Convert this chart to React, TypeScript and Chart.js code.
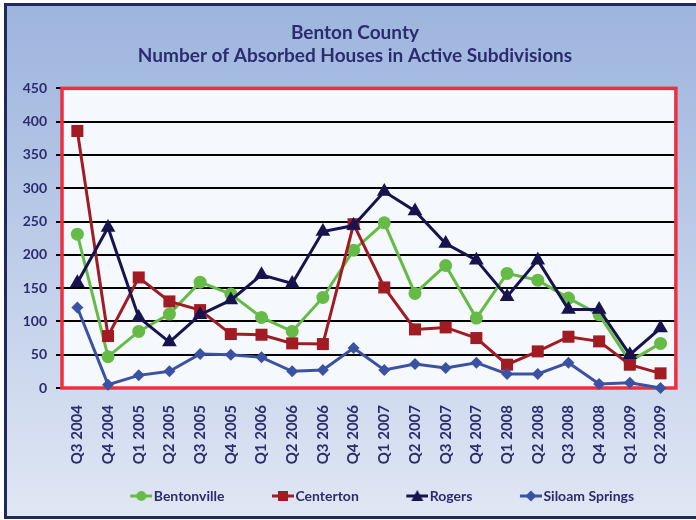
import React, { useEffect, useRef } from "react";
import { Chart, registerables } from "chart.js";

Chart.register(...registerables);

const categories = [
  "Q3 2004", "Q4 2004", "Q1 2005", "Q2 2005", "Q3 2005", "Q4 2005", "Q1 2006", "Q2 2006",
  "Q3 2006", "Q4 2006", "Q1 2007", "Q2 2007", "Q3 2007", "Q4 2007", "Q1 2008", "Q2 2008",
  "Q3 2008", "Q4 2008", "Q1 2009", "Q2 2009",
];
const bentonville = [231, 47, 85, 111, 159, 141, 106, 85, 136, 207, 248, 142, 184, 105, 172, 162, 135, 110, 40, 67];
const centerton = [386, 78, 166, 130, 117, 81, 80, 67, 66, 246, 151, 88, 91, 75, 35, 55, 77, 70, 35, 22];
const rogers = [158, 241, 106, 69, 110, 132, 170, 157, 235, 244, 295, 266, 217, 192, 137, 192, 118, 118, 50, 90];
const siloamSprings = [121, 5, 19, 25, 51, 50, 46, 25, 27, 60, 27, 36, 30, 38, 21, 21, 38, 6, 8, 0];
const yTicks = [0, 50, 100, 150, 200, 250, 300, 350, 400, 450];
const titleLines = ["Benton County", "Number of Absorbed Houses in Active Subdivisions"];

const FONT = "Lato, 'Open Sans', sans-serif";
const TEXT = "#2b2c6e";

const seriesDefs = [
  { label: "Bentonville", data: bentonville, color: "#66bb46", style: "circle", radius: 6.5 },
  { label: "Centerton", data: centerton, color: "#a01c22", style: "rect", radius: 8.5 },
  { label: "Rogers", data: rogers, color: "#16134e", style: "triangle", radius: 8.5 },
  { label: "Siloam Springs", data: siloamSprings, color: "#3b52a3", style: "rectRot", radius: 6 },
];

// legend icon: image 54px wide, centred on a 43px legend box; line occupies right 22px
function legendIcon(color: string, style: string): HTMLCanvasElement {
  const c = document.createElement("canvas");
  c.width = 54;
  c.height = 14;
  const ctx = c.getContext("2d")!;
  const x0 = 32;
  const x1 = 54;
  const cx = (x0 + x1) / 2;
  ctx.strokeStyle = color;
  ctx.fillStyle = color;
  ctx.lineWidth = 3;
  ctx.beginPath();
  ctx.moveTo(x0, 7);
  ctx.lineTo(x1, 7);
  ctx.stroke();
  ctx.beginPath();
  if (style === "circle") {
    ctx.arc(cx, 7, 5, 0, Math.PI * 2);
  } else if (style === "rect") {
    ctx.rect(cx - 5, 2, 10, 10);
  } else if (style === "triangle") {
    ctx.moveTo(cx, 1);
    ctx.lineTo(cx + 6, 12);
    ctx.lineTo(cx - 6, 12);
    ctx.closePath();
  } else {
    ctx.moveTo(cx, 1.5);
    ctx.lineTo(cx + 5.5, 7);
    ctx.lineTo(cx, 12.5);
    ctx.lineTo(cx - 5.5, 7);
    ctx.closePath();
  }
  ctx.fill();
  return c;
}

const framePlugin = {
  id: "frame",
  beforeDraw(chart: any) {
    const { ctx, width, height, chartArea } = chart;
    ctx.save();
    ctx.fillStyle = "#ffffff";
    ctx.fillRect(0, 0, width, height);
    const g = ctx.createLinearGradient(0, 4, 0, 518);
    g.addColorStop(0, "#9db4de");
    g.addColorStop(1, "#e0e7f4");
    ctx.fillStyle = g;
    ctx.fillRect(5, 4, width + 20, 513);
    ctx.strokeStyle = "#1f2a5c";
    ctx.lineWidth = 3;
    ctx.strokeRect(5.5, 4.5, width + 20, 513);
    ctx.fillStyle = "#f5f9fe";
    ctx.fillRect(chartArea.left, chartArea.top, chartArea.right - chartArea.left, chartArea.bottom - chartArea.top);
    ctx.restore();
  },
  beforeDatasetsDraw(chart: any) {
    const { ctx, chartArea } = chart;
    ctx.save();
    ctx.strokeStyle = "#ee2f3f";
    ctx.lineWidth = 3.5;
    ctx.strokeRect(chartArea.left, chartArea.top, chartArea.right - chartArea.left, chartArea.bottom - chartArea.top);
    ctx.restore();
  },
};

export default function App() {
  const ref = useRef<HTMLCanvasElement>(null);
  useEffect(() => {
    const icons = seriesDefs.map((s) => legendIcon(s.color, s.style));
    const chart = new Chart(ref.current!, {
      type: "line",
      data: {
        labels: categories,
        datasets: seriesDefs.map((s, i) => ({
          label: s.label,
          data: s.data,
          yAxisID: "y",
          borderColor: s.color,
          backgroundColor: s.color,
          pointBackgroundColor: s.color,
          pointBorderColor: s.color,
          pointStyle: s.style as any,
          pointRadius: s.radius,
          pointBorderWidth: 0,
          borderWidth: 3,
          tension: 0,
          clip: false as any,
          order: seriesDefs.length - 1 - i,
        })),
      },
      options: {
        animation: false,
        responsive: false,
        layout: { padding: { left: 14, right: 0, top: 0, bottom: 7 } },
        plugins: {
          tooltip: { enabled: false },
          title: {
            display: true,
            text: titleLines,
            color: TEXT,
            font: { family: FONT, size: 19, weight: "bold", lineHeight: 1.22 },
            padding: { top: 21, bottom: 21 },
          },
          legend: {
            position: "bottom",
            fullSize: false,
            labels: {
              usePointStyle: true,
              pointStyleWidth: 43,
              padding: 21,
              color: TEXT,
              font: { family: FONT, size: 14, weight: "bold" },
              generateLabels: () =>
                seriesDefs.map((s, i) => ({
                  text: s.label,
                  fillStyle: s.color,
                  strokeStyle: s.color,
                  lineWidth: 0,
                  pointStyle: icons[i] as any,
                  hidden: false,
                  datasetIndex: i,
                  fontColor: TEXT,
                })),
            },
          },
        },
        scales: {
          x: {
            offset: true,
            grid: { display: false, drawTicks: false },
            border: { display: false },
            ticks: {
              color: TEXT,
              font: { family: FONT, size: 15, weight: "bold" },
              maxRotation: 90,
              minRotation: 90,
              padding: 17,
              autoSkip: false,
            },
            afterFit: (s: any) => {
              s.height = 80;
            },
          },
          y: {
            position: "left",
            min: 0,
            max: 450,
            afterBuildTicks: (s: any) => {
              s.ticks = yTicks.map((v) => ({ value: v }));
            },
            grid: { color: "#000000", lineWidth: 2, drawTicks: true, tickLength: 6, tickColor: "#000000" },
            border: { display: false },
            ticks: {
              color: TEXT,
              font: { family: FONT, size: 14, weight: "bold" },
              padding: 9,
            },
            afterFit: (s: any) => {
              s.width = 48;
            },
          },
          spacer: {
            type: "linear",
            position: "right",
            display: true,
            grid: { display: false, drawTicks: false },
            border: { display: false },
            ticks: { display: false },
            afterFit: (s: any) => {
              s.width = 19;
            },
          },
        },
      },
      plugins: [framePlugin],
    });
    return () => chart.destroy();
  }, []);
  return (
    <div style={{ position: "fixed", left: 0, top: 0, width: 696, height: 520 }}>
      <canvas ref={ref} width={696} height={520} style={{ display: "block" }} />
    </div>
  );
}
